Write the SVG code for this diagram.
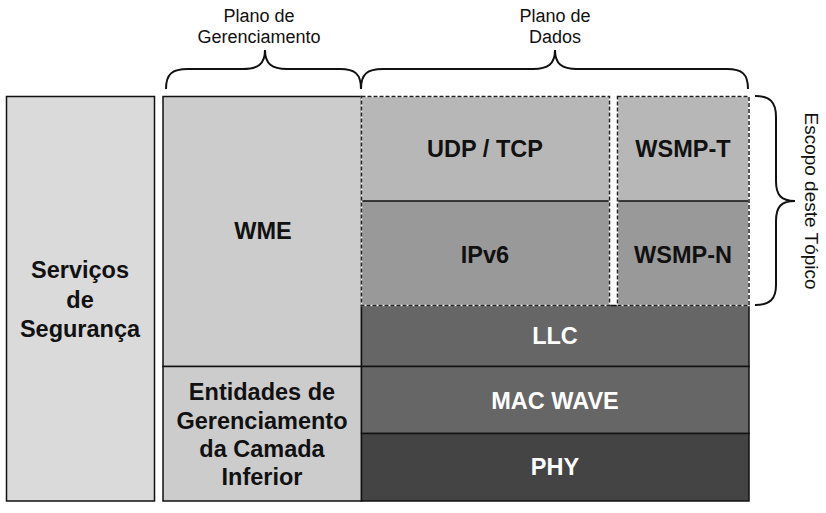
<svg xmlns="http://www.w3.org/2000/svg" width="826" height="513" viewBox="0 0 826 513">
<style>
.box{stroke:#111;stroke-width:1.5}
.bt{font-family:"Liberation Sans",Arial,sans-serif;font-weight:bold;font-size:23.5px;text-anchor:middle;fill:#111}
.wt{font-family:"Liberation Sans",Arial,sans-serif;font-weight:bold;font-size:23.5px;text-anchor:middle;fill:#fff}
.lt{font-family:"Liberation Sans",Arial,sans-serif;font-size:18px;text-anchor:middle;fill:#111}
.br{fill:none;stroke:#111;stroke-width:2}
.dsh{fill:none;stroke:#fff;stroke-width:1.5}
.dsh2{fill:none;stroke:#222;stroke-width:1.5;stroke-dasharray:4 2}
</style>
<rect width="826" height="513" fill="#fff"/>
<g id="servicos">
<rect class="box" x="6.5" y="96.5" width="148" height="404.5" fill="#dadada"/>
<text class="bt" x="80" y="278">Serviços</text>
<text class="bt" x="80" y="307.5">de</text>
<text class="bt" x="80" y="337">Segurança</text>
</g>
<g id="wme">
<rect class="box" x="163" y="96.5" width="198.5" height="270" fill="#cccccc"/>
<text class="bt" x="263" y="239">WME</text>
</g>
<g id="entidades">
<rect class="box" x="163" y="366.5" width="198.5" height="134.5" fill="#cccccc"/>
<text class="bt" x="262" y="400">Entidades de</text>
<text class="bt" x="262" y="428.5">Gerenciamento</text>
<text class="bt" x="262" y="457">da Camada</text>
<text class="bt" x="262" y="485">Inferior</text>
</g>
<g id="llc">
<rect class="box" x="361.5" y="305.5" width="387.5" height="61" fill="#666666"/>
<text class="wt" x="555" y="344">LLC</text>
</g>
<g id="mac">
<rect class="box" x="361.5" y="366.5" width="387.5" height="67" fill="#666666"/>
<text class="wt" x="555" y="408.5">MAC WAVE</text>
</g>
<g id="phy">
<rect class="box" x="361.5" y="433.5" width="387.5" height="67.5" fill="#444444"/>
<text class="wt" x="555" y="475">PHY</text>
</g>
<g id="udptcp">
<rect x="361.5" y="96.5" width="248" height="104.5" fill="#b7b7b7"/>
<text class="bt" x="485" y="157">UDP / TCP</text>
</g>
<g id="ipv6">
<rect x="361.5" y="201" width="248" height="104.5" fill="#999999"/>
<line x1="361.5" y1="201" x2="609.5" y2="201" stroke="#111" stroke-width="1.5"/>
<text class="bt" x="485" y="263">IPv6</text>
</g>
<g id="wsmpt">
<rect x="617.5" y="96.5" width="131.5" height="104.5" fill="#b7b7b7"/>
<text class="bt" x="683" y="157">WSMP-T</text>
</g>
<g id="wsmpn">
<rect x="617.5" y="201" width="131.5" height="104.5" fill="#999999"/>
<line x1="617.5" y1="201" x2="749" y2="201" stroke="#111" stroke-width="1.5"/>
<text class="bt" x="683" y="263">WSMP-N</text>
</g>
<g id="scope-borders">
<rect class="dsh" x="361.5" y="96.5" width="248" height="209"/>
<rect class="dsh2" x="361.5" y="96.5" width="248" height="209"/>
<rect class="dsh" x="617.5" y="96.5" width="131.5" height="209"/>
<rect class="dsh2" x="617.5" y="96.5" width="131.5" height="209"/>
</g>
<g id="connectors">
<path class="br" d="M166,89 C166,74 172,69 188,69 L243,69 C258,69 265,64 265,50 C265,64 272,69 287,69 L340,69 C355,69 361,74 361,89"/>
<path class="br" d="M361,89 C361,74 367,69 383,69 L533,69 C548,69 555,64 555,50 C555,64 562,69 577,69 L727,69 C742,69 748,74 748,89"/>
<path class="br" d="M755,96 C770,96 776,102 776,117 L776,181 C776,195 781,201 795,201 C781,201 776,207 776,221 L776,285 C776,299 770,305 755,305"/>
</g>
<g id="labels">
<text class="lt" x="259" y="22">Plano de</text>
<text class="lt" x="259" y="43">Gerenciamento</text>
<text class="lt" x="555" y="22">Plano de</text>
<text class="lt" x="555" y="43">Dados</text>
<text class="lt" style="font-size:19px" transform="translate(805,201) rotate(90)">Escopo deste Tópico</text>
</g>
</svg>
